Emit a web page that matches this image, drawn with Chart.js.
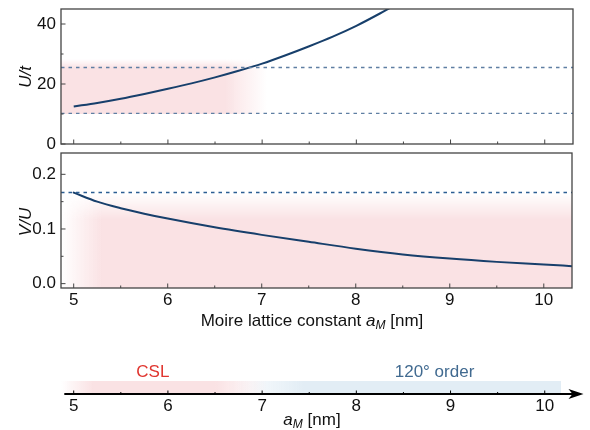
<!DOCTYPE html>
<html>
<head>
<meta charset="utf-8">
<script src="https://cdn.jsdelivr.net/npm/chart.js@4.4.1/dist/chart.umd.min.js"></script>
<style>
  body { margin: 0; background: #fff; width: 590px; height: 430px; position: relative; overflow: hidden;
         font-family: "Liberation Sans", Arial, sans-serif; color: #111; }
  canvas { position: absolute; left: 0; top: 0; }
  .t { position: absolute; white-space: nowrap; font-size: 17px; line-height: 1; transform: translate(-50%, -50%); }
  .rot { transform: translate(-50%, -50%) rotate(-90deg); font-style: italic; }
  sub { font-size: 12px; vertical-align: -3px; line-height: 0; }
</style>
</head>
<body>
<canvas id="topChart" width="590" height="430"></canvas>
<canvas id="midChart" width="590" height="430"></canvas>
<canvas id="barChart" width="590" height="430"></canvas>

<div class="t rot" style="left:25px; top:77px;">U/t</div>
<div class="t rot" style="left:25px; top:222px;">V/U</div>
<div class="t" style="left:312px; top:320px;">Moire lattice constant <i>a</i><sub><i>M</i></sub> [nm]</div>
<div class="t" style="left:312px; top:419px;"><i>a</i><sub><i>M</i></sub> [nm]</div>

<script>
// U/t against moire lattice constant (nm)
const aUt = [5, 5.25, 5.5, 5.75, 6, 6.25, 6.5, 6.75, 7, 7.25, 7.5, 7.75, 8, 8.25, 8.5];
const ut = [12.5, 13.7, 15.1, 16.7, 18.4, 20.2, 22.2, 24.4, 26.8, 29.6, 32.6, 35.8, 39.4, 43.5, 47.9];
const utLevels = [10.2, 25.5];

// V/U against moire lattice constant (nm)
const aVu = [5, 5.25, 5.5, 5.75, 6, 6.5, 7, 7.5, 8, 8.5, 9, 9.5, 10, 10.3];
const vu = [0.1665, 0.150, 0.138, 0.128, 0.119, 0.103, 0.0892, 0.0765, 0.064, 0.0535, 0.0458, 0.0398, 0.035, 0.032];
const vuLevel = 0.1667;

// axes
const xMin = 4.865, xMax = 10.3;
const xMajor = [5, 6, 7, 8, 9, 10];
const xMinor = [5.5, 6.5, 7.5, 8.5, 9.5];
const utMajor = [0, 20, 40], utMinor = [10, 30];
const vuMajor = [0, 0.1, 0.2], vuMinor = [0.05, 0.15];

// phases along a_M
const phaseNames = ['CSL', '120° order'];
const phaseCenters = [5.84, 8.83];
const phaseFrom = [4.865, 6.65];
const phaseTo = [7.05, 10.17];

Chart.defaults.font.family = '"Liberation Sans", Arial, sans-serif';
Chart.defaults.color = '#111';

const pink = '250,226,228';
const blue = '226,237,245';

function pts(xs, ys) { return xs.map((x, i) => ({ x: x, y: ys[i] })); }

// rectangle with soft (faded) edges, fades in px
function softRect(ctx, x0, y0, x1, y1, rgb, f) {
  const w = Math.max(1, Math.round(x1 - x0)), h = Math.max(1, Math.round(y1 - y0));
  const off = document.createElement('canvas');
  off.width = w; off.height = h;
  const o = off.getContext('2d');
  const gh = o.createLinearGradient(0, 0, w, 0);
  gh.addColorStop(0, 'rgba(' + rgb + ',' + (f.l ? 0 : 1) + ')');
  gh.addColorStop(Math.min(1, f.l / w), 'rgba(' + rgb + ',1)');
  gh.addColorStop(Math.max(Math.min(1, f.l / w), 1 - f.r / w), 'rgba(' + rgb + ',1)');
  gh.addColorStop(1, 'rgba(' + rgb + ',' + (f.r ? 0 : 1) + ')');
  o.fillStyle = gh;
  o.fillRect(0, 0, w, h);
  o.globalCompositeOperation = 'destination-in';
  const gv = o.createLinearGradient(0, 0, 0, h);
  gv.addColorStop(0, 'rgba(0,0,0,' + (f.t ? 0 : 1) + ')');
  gv.addColorStop(Math.min(1, f.t / h), 'rgba(0,0,0,1)');
  gv.addColorStop(Math.max(Math.min(1, f.t / h), 1 - f.b / h), 'rgba(0,0,0,1)');
  gv.addColorStop(1, 'rgba(0,0,0,' + (f.b ? 0 : 1) + ')');
  o.fillStyle = gv;
  o.fillRect(0, 0, w, h);
  ctx.drawImage(off, Math.round(x0), Math.round(y0));
}

// frame + inward ticks
function framePlugin(yMajor, yMinor) {
  return {
    id: 'frame',
    afterDatasetsDraw(chart) {
      const { ctx, chartArea: a, scales } = chart;
      ctx.save();
      ctx.strokeStyle = '#444';
      ctx.lineWidth = 1.3;
      ctx.strokeRect(a.left, a.top, a.right - a.left, a.bottom - a.top);
      ctx.lineWidth = 1;
      ctx.beginPath();
      xMajor.forEach(v => { const p = scales.x.getPixelForValue(v); ctx.moveTo(p, a.bottom); ctx.lineTo(p, a.bottom - 4.5); });
      xMinor.forEach(v => { const p = scales.x.getPixelForValue(v); ctx.moveTo(p, a.bottom); ctx.lineTo(p, a.bottom - 2.5); });
      yMajor.forEach(v => { const p = scales.y.getPixelForValue(v); ctx.moveTo(a.left, p); ctx.lineTo(a.left + 4.5, p); });
      yMinor.forEach(v => { const p = scales.y.getPixelForValue(v); ctx.moveTo(a.left, p); ctx.lineTo(a.left + 2.5, p); });
      ctx.stroke();
      ctx.restore();
    }
  };
}

const topShade = {
  id: 'topShade',
  beforeDatasetsDraw(chart) {
    const { ctx, chartArea: a, scales: { x, y } } = chart;
    const x1 = x.getPixelForValue(7.05), y0 = y.getPixelForValue(28.5), y1 = y.getPixelForValue(utLevels[0]);
    softRect(ctx, a.left, y0, x1, y1, pink, { l: 0, r: x1 - x.getPixelForValue(6.6), t: y.getPixelForValue(25.5) - y0, b: 0 });
  }
};

const midShade = {
  id: 'midShade',
  beforeDatasetsDraw(chart) {
    const { ctx, chartArea: a, scales: { x, y } } = chart;
    const y0 = y.getPixelForValue(vuLevel);
    softRect(ctx, a.left, y0, a.right, a.bottom, pink,
      { l: x.getPixelForValue(5.3) - a.left, r: 0, t: y.getPixelForValue(0.118) - y0, b: 0 });
  }
};

function xAxis(showLabels, height, size) {
  return {
    type: 'linear', min: xMin, max: xMax,
    grid: { display: false, drawTicks: false }, border: { display: false },
    afterBuildTicks: s => { s.ticks = xMajor.map(v => ({ value: v })); },
    ticks: { display: showLabels, padding: 2, font: { size: size }, color: '#111', callback: v => String(v) },
    afterFit: s => { s.height = height; s.paddingLeft = 0; s.paddingRight = 0; }
  };
}

function yAxis(min, max, major, fmt) {
  return {
    type: 'linear', min: min, max: max,
    grid: { display: false, drawTicks: false }, border: { display: false },
    afterBuildTicks: s => { s.ticks = major.map(v => ({ value: v })); },
    ticks: { padding: 5, font: { size: 17 }, color: '#111', callback: fmt },
    afterFit: s => { s.width = 61; s.paddingTop = 0; s.paddingBottom = 0; }
  };
}

function level(v, color) {
  return {
    data: [{ x: xMin, y: v }, { x: xMax, y: v }],
    borderColor: color, borderWidth: 1.3, borderDash: [3.5, 4], pointRadius: 0, clip: 0
  };
}

const common = {
  responsive: false, animation: false, devicePixelRatio: 1,
  plugins: { legend: { display: false }, tooltip: { enabled: false } },
  events: []
};

new Chart(document.getElementById('topChart'), {
  type: 'line',
  data: {
    datasets: [
      ...utLevels.map(v => level(v, '#5f7fa3')),
      { data: pts(aUt, ut), borderColor: '#173f6b', borderWidth: 2, pointRadius: 0,
        cubicInterpolationMode: 'monotone', clip: 0 }
    ]
  },
  options: {
    ...common,
    layout: { padding: { top: 9, right: 17, left: 0, bottom: 0 } },
    scales: { x: xAxis(false, 286, 17), y: yAxis(0, 45, utMajor, v => String(v)) }
  },
  plugins: [topShade, framePlugin(utMajor, utMinor)]
});

new Chart(document.getElementById('midChart'), {
  type: 'line',
  data: {
    datasets: [
      level(vuLevel, '#2b5d92'),
      { data: pts(aVu, vu), borderColor: '#173f6b', borderWidth: 2, pointRadius: 0,
        borderCapStyle: 'round', cubicInterpolationMode: 'monotone', clip: 0 }
    ]
  },
  options: {
    ...common,
    layout: { padding: { top: 153, right: 18, left: 0, bottom: 0 } },
    scales: { x: xAxis(true, 142, 17), y: yAxis(-0.008, 0.239, vuMajor, v => v.toFixed(1)) }
  },
  plugins: [midShade, framePlugin(vuMajor, vuMinor)]
});

// phase bar with arrow axis
const phaseBar = {
  id: 'phaseBar',
  afterDatasetsDraw(chart) {
    const { ctx, chartArea: a, scales: { x, y } } = chart;
    const yb = y.getPixelForValue(0.02), yt = y.getPixelForValue(0.29);
    const b0 = x.getPixelForValue(phaseFrom[1]), b1 = x.getPixelForValue(phaseTo[1]);
    softRect(ctx, b0, yt, b1, yb, blue, { l: x.getPixelForValue(7.45) - b0, r: 0, t: 0, b: 0 });
    const p0 = x.getPixelForValue(phaseFrom[0]), p1 = x.getPixelForValue(phaseTo[0]);
    softRect(ctx, p0, yt, p1, yb, pink, { l: x.getPixelForValue(5.2) - p0, r: p1 - x.getPixelForValue(6.5), t: 0, b: 0 });

    ctx.save();
    // axis line with arrow
    const ax = a.bottom, left = x.getPixelForValue(4.9), tip = a.right + 10.5;
    ctx.strokeStyle = '#000'; ctx.fillStyle = '#000';
    ctx.lineWidth = 1.8;
    ctx.beginPath(); ctx.moveTo(left, ax); ctx.lineTo(tip - 8, ax); ctx.stroke();
    ctx.beginPath();
    ctx.moveTo(tip, ax); ctx.lineTo(tip - 15, ax - 5); ctx.lineTo(tip - 11, ax); ctx.lineTo(tip - 15, ax + 5);
    ctx.closePath(); ctx.fill();
    ctx.lineWidth = 1;
    ctx.beginPath();
    xMajor.forEach(v => { const p = x.getPixelForValue(v); ctx.moveTo(p, ax); ctx.lineTo(p, ax - 3.5); });
    xMinor.forEach(v => { const p = x.getPixelForValue(v); ctx.moveTo(p, ax); ctx.lineTo(p, ax - 2); });
    ctx.stroke();
    // phase names
    ctx.font = '17px "Liberation Sans", Arial, sans-serif';
    ctx.textAlign = 'center'; ctx.textBaseline = 'middle';
    const colors = ['#e0352f', '#416a90'];
    phaseNames.forEach((n, i) => {
      ctx.fillStyle = colors[i];
      ctx.fillText(n, x.getPixelForValue(phaseCenters[i]), y.getPixelForValue(0.5));
    });
    ctx.restore();
  }
};

new Chart(document.getElementById('barChart'), {
  type: 'line',
  data: { datasets: [] },
  options: {
    ...common,
    layout: { padding: { top: 350, right: 17, left: 61, bottom: 0 } },
    scales: {
      x: xAxis(true, 36, 17),
      y: { type: 'linear', min: 0, max: 1, display: false }
    }
  },
  plugins: [phaseBar]
});
</script>
</body>
</html>
